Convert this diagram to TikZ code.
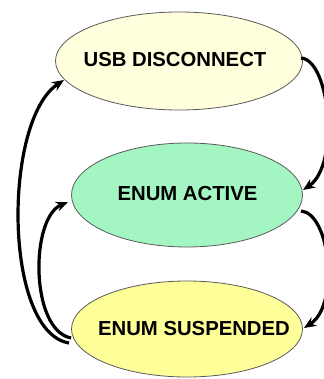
\documentclass[tikz,border=0pt]{standalone}
\usepackage{fontspec}
\setmainfont{Liberation Sans}
\usetikzlibrary{shapes.geometric,arrows.meta}
\definecolor{cDisc}{HTML}{FFFFDD}
\definecolor{cAct}{HTML}{A3F5C1}
\definecolor{cSusp}{HTML}{FFFF99}
\definecolor{cEdge}{HTML}{5A5A5A}
\begin{document}
\begin{tikzpicture}[x=1pt,y=-1pt,
  state/.style={ellipse,draw=cEdge,line width=0.8pt,inner sep=0pt},
  lbl/.style={font=\fontsize{20.3}{24}\selectfont\bfseries,inner sep=0pt},
  trans/.style={line width=3.2pt,-{Stealth[length=12pt,width=10pt]}}]
\useasboundingbox (0,0) rectangle (323,379);
\node[state,fill=cDisc,minimum width=247pt,minimum height=98pt] (e1) at (179,61) {};
\node[state,fill=cAct,minimum width=231pt,minimum height=104pt] (e2) at (187,195) {};
\node[state,fill=cSusp,minimum width=231pt,minimum height=96pt] (e3) at (187,329) {};
\node[lbl] (t1) at (175,60) {USB DISCONNECT};
\node[lbl] (t2) at (187.5,194) {ENUM ACTIVE};
\node[lbl] (t3) at (194,329) {ENUM SUSPENDED};
\coordinate (a1s) at (301,58);
\coordinate (a1e) at (303,190);
\coordinate (a2s) at (301,211);
\coordinate (a2e) at (304,328);
\coordinate (a3s) at (69,343);
\coordinate (a3e) at (64,80);
\coordinate (a4s) at (71,338);
\coordinate (a4e) at (68,202);
\draw[trans] (a1s) .. controls (330,60) and (340,165) .. (a1e);
\draw[trans] (a2s) .. controls (330,213) and (340,305) .. (a2e);
\draw[trans] (a3s) .. controls (3,332) and (3,120) .. (a3e);
\draw[trans] (a4s) .. controls (30,330) and (30,218) .. (a4e);
\end{tikzpicture}
\end{document}
